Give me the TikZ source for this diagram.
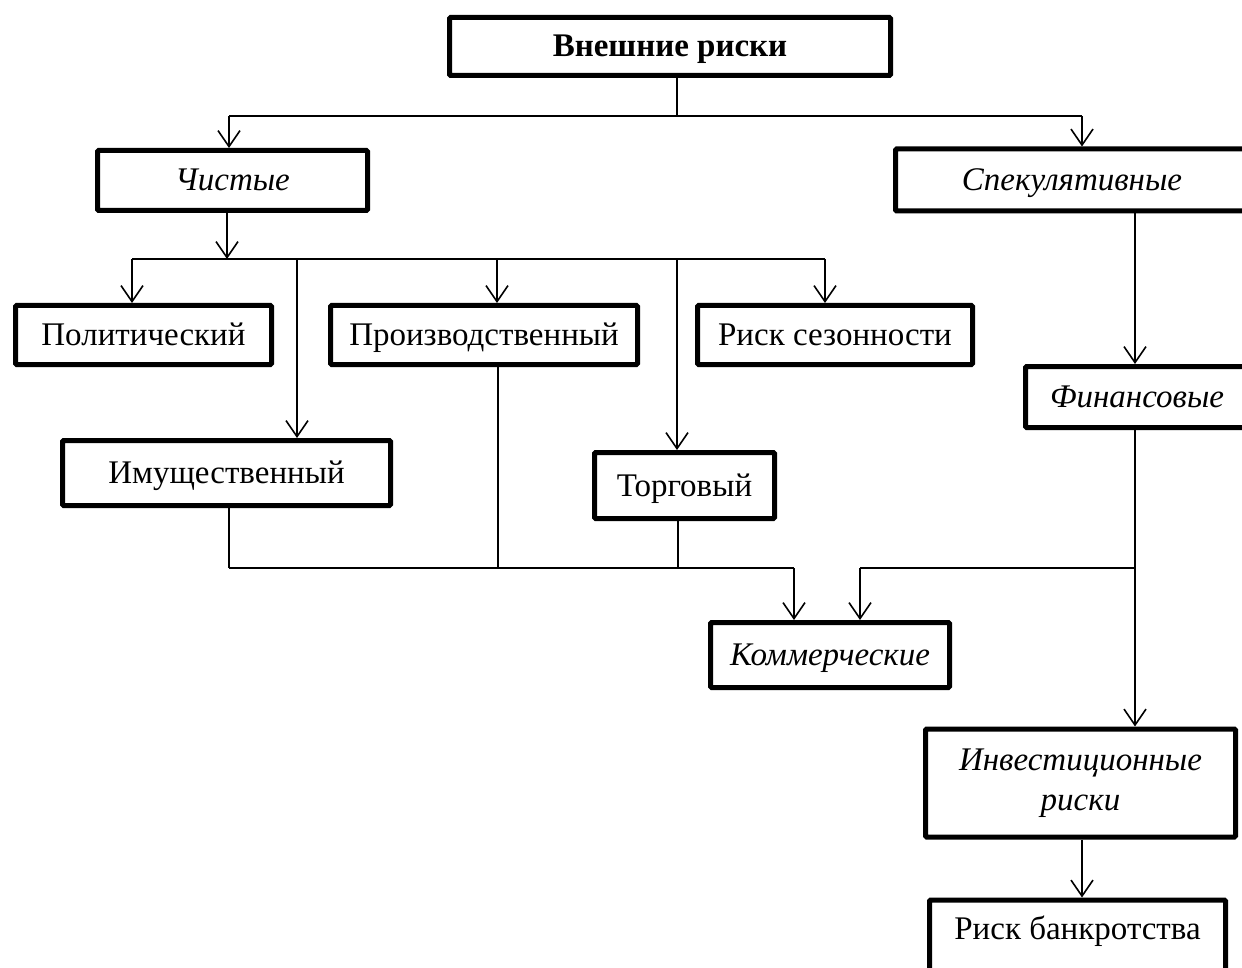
\documentclass[tikz,border=0pt]{standalone}
\usepackage{fontspec}
\setmainfont{Liberation Serif}
\usetikzlibrary{arrows.meta}

\begin{document}
\begin{tikzpicture}[x=0.5pt, y=-0.5pt, line width=0.8pt]
\tikzset{ >={Straight Barb[length=8pt,width=11pt]},
  box/.style={draw, line width=2.5pt, rounded corners=0.6pt, inner sep=0pt, align=center,
              font=\fontsize{16.5}{20}\selectfont},
  one/.style={box, text height=13.5pt, text depth=3pt},
  ital/.style={font=\fontsize{16.5}{20}\selectfont\itshape},
}

\useasboundingbox (0,0) rectangle (1242,968);
\clip (0,0) rectangle (1242,968);

%\draw [lightgray, dashed](0,0) grid[step=50] (1242,968);

\node [one, font=\fontsize{16.5}{20}\selectfont\bfseries, minimum width=220.5pt, minimum height=29pt] (vnesh) at (670,46.5) {Внешние риски};

\node [one, ital, minimum width=135pt, minimum height=30pt]   (chist) at (232.5,180.5) {Чистые};
\node [one, ital, minimum width=176.5pt, minimum height=31pt] (spek)  at (1072,180) {Спекулятивные};

\node [one, minimum width=128pt,   minimum height=29.5pt] (polit)  at (143.5,335) {Политический};
\node [one, minimum width=153.5pt, minimum height=29.5pt] (proizv) at (484,335)   {Производственный};
\node [one, minimum width=137.5pt, minimum height=29.5pt] (sezon)  at (835,335)   {Риск сезонности};

\node [one, minimum width=164pt, minimum height=32.5pt] (imusch) at (226.5,473) {Имущественный};
\node [one, minimum width=90pt,  minimum height=33pt]   (torg)   at (684.5,485.5) {Торговый};

\node [one, ital, minimum width=111.5pt, minimum height=30.5pt] (fin)    at (1137,397) {Финансовые};
\node [one, ital, minimum width=119.5pt, minimum height=32.5pt] (kommer) at (830,655)  {Коммерческие};

\node [box, ital, minimum width=155pt, minimum height=54pt] (invest) at (1080.5,783) {Инвестиционные\\риски};
\node [box, anchor=north, minimum width=148pt, inner ysep=8.75pt, text height=11pt, text depth=30pt] (bankr) at (1077.5,897.5) {Риск банкротства};

% upper level
\coordinate (t0) at (677,116);
\coordinate (tl) at (229,116);
\coordinate (tr) at (1082,116);
\draw (vnesh.south -| t0) -- (t0);
\draw (tl) -- (tr);
\draw [->] (tl) -- (tl |- chist.north);
\draw [->] (tr) -- (tr |- spek.north);

% pure risks
\coordinate (b0) at (227,259);
\coordinate (b1) at (132,259);
\coordinate (b2) at (297,259);
\coordinate (b3) at (497,259);
\coordinate (b4) at (677,259);
\coordinate (b5) at (825,259);
\draw [->] (chist.south -| b0) -- (b0);
\draw (b1) -- (b5);
\draw [->] (b1) -- (b1 |- polit.north);
\draw [->] (b2) -- (b2 |- imusch.north);
\draw [->] (b3) -- (b3 |- proizv.north);
\draw [->] (b4) -- (b4 |- torg.north);
\draw [->] (b5) -- (b5 |- sezon.north);

% commercial
\coordinate (c1) at (229,568);
\coordinate (c2) at (498,568);
\coordinate (c3) at (678,568);
\coordinate (c4) at (794,568);
\draw (imusch.south -| c1) -- (c1);
\draw (proizv.south -| c2) -- (c2);
\draw (torg.south -| c3) -- (c3);
\draw (c1) -- (c4);
\draw [->] (c4) -- (c4 |- kommer.north);

% speculative
\coordinate (f0) at (1135,568);
\coordinate (f1) at (860,568);
\draw [->] (spek.south -| f0) -- (f0 |- fin.north);
\draw [->] (fin.south -| f0) -- (f0 |- invest.north);
\draw (f0) -- (f1);
\draw [->] (f1) -- (f1 |- kommer.north);
\draw [->] (invest.south -| tr) -- (tr |- bankr.north);

\end{tikzpicture}
\end{document}
